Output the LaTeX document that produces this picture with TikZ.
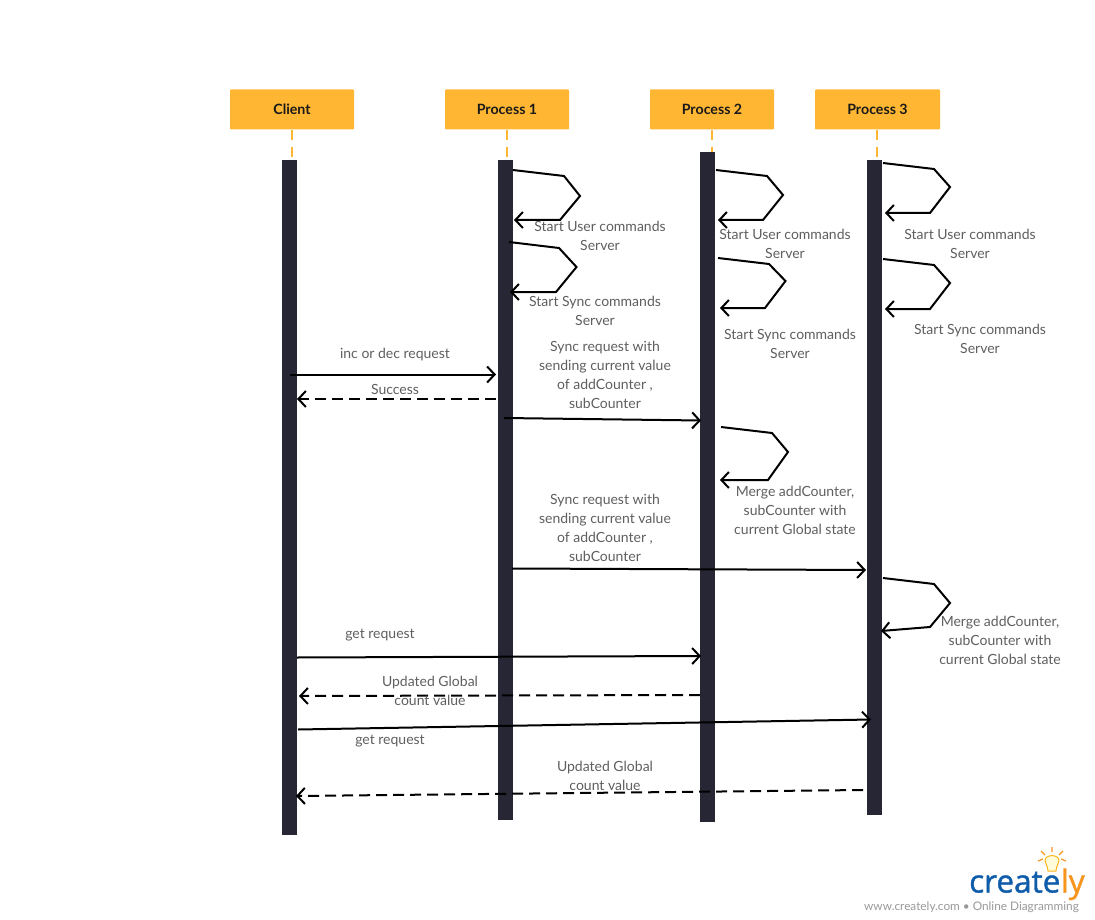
\documentclass[tikz,border=0pt]{standalone}
\usepackage{fontspec}
\setmainfont{Lato}
\newfontfamily\logofont[RawFeature={embolden=1.2}]{Open Sans}
\usetikzlibrary{arrows.meta}
\definecolor{hdr}{HTML}{FFB733}
\definecolor{barc}{HTML}{262635}
\definecolor{lbl}{HTML}{5F5F5F}
\definecolor{logob}{HTML}{0F5DAA}
\definecolor{logoo}{HTML}{F7941E}
\tikzset{
 hdrbox/.style={fill=hdr,rounded corners=0.8pt,minimum width=124pt,minimum height=40pt,inner sep=0pt,font=\fontsize{14.2}{17}\selectfont\bfseries,text=black!90},
 lifebar/.style={fill=barc,minimum width=15pt,inner sep=0pt,anchor=north},
 stub/.style={draw=hdr,line width=2pt,dash pattern=on 10pt off 7pt},
 msg/.style={draw=black,line width=2pt,-{Straight Barb[length=7.5pt,width=16pt,line width=2pt]}},
 ret/.style={msg,dash pattern=on 11pt off 6pt},
 lab/.style={text=lbl,align=center,inner sep=0pt,font=\fontsize{14}{19}\selectfont},
}
\begin{document}
\begin{tikzpicture}[x=1pt,y=-1pt]
\useasboundingbox[fill=white] (0,0) rectangle (1095,920);
% headers
\node[hdrbox] (hc) at (292,109.5) {Client};
\node[hdrbox] (h1) at (507,109.5) {Process 1};
\node[hdrbox] (h2) at (712,109.5) {Process 2};
\node[hdrbox,minimum width=125pt] (h3) at (877.5,109.5) {Process 3};
% bars
\node[lifebar,minimum height=675pt] (bc) at (289.5,160) {};
\node[lifebar,minimum height=660pt] (b1) at (505.5,160) {};
\node[lifebar,minimum height=670pt] (b2) at (707.5,152) {};
\node[lifebar,minimum height=655pt] (b3) at (874.5,160) {};
\coordinate (sc) at (292,158);\coordinate (s1) at (507,158);
\coordinate (s2) at (712,152);\coordinate (s3) at (877,158);
\draw[stub] (hc.south -| sc) -- (sc);
\draw[stub] (h1.south -| s1) -- (s1);
\draw[stub] (h2.south -| s2) -- (s2);
\draw[stub] (h3.south -| s3) -- (s3);
% self loops
\foreach \n/\a/\b/\c/\d/\e in {
 l1/{513,170}/{564,176}/{580,196}/{560,220}/{514,220},
 l2/{509,242}/{559,248}/{576.5,267}/{556,292}/{510,292},
 l3/{716,170}/{767,176}/{783,195}/{763,220}/{718,220},
 l4/{718,258}/{769,264}/{785.5,281}/{765,308}/{720,308},
 l5/{721,427}/{772,433}/{788,452}/{768,480}/{720,480},
 l6/{883,163}/{934,169}/{950,187}/{930,213}/{885,213},
 l7/{883,259}/{934,265}/{950,283}/{930,309}/{885,309},
 l8/{883,578}/{934,584}/{950,603}/{930,627}/{881,631}}{
  \draw[msg,line join=miter] (\a) -- (\b) -- (\c) -- (\d) -- (\e);
}
% message end points
\coordinate (m1a) at (290,374.5);\coordinate (m1b) at (496,374.5);
\coordinate (m2a) at (496,399);\coordinate (m2b) at (297,399);
\coordinate (m3a) at (504,418);\coordinate (m3b) at (701,420.5);
\coordinate (m4a) at (512,568.5);\coordinate (m4b) at (866,570);
\coordinate (m5a) at (297,657.5);\coordinate (m5b) at (701,656);
\coordinate (m6a) at (700,695);\coordinate (m6b) at (299,696);
\coordinate (m7a) at (298,729.5);\coordinate (m7b) at (871,719.5);
\coordinate (m8a) at (863,790);\coordinate (m8b) at (296,796);
\draw[msg] (m1a) -- (m1b);
\draw[ret] (m2a) -- (m2b);
\draw[msg] (m3a) -- (m3b);
\draw[msg] (m4a) -- (m4b);
\draw[msg] (m5a) -- (m5b);
\draw[ret] (m6a) -- (m6b);
\draw[msg] (m7a) -- (m7b);
\draw[ret] (m8a) -- (m8b);
% labels
\node[lab] (t1) at (600,236) {Start User commands\\Server};
\node[lab] (t2) at (595,311) {Start Sync commands\\Server};
\node[lab] (t3) at (785,244) {Start User commands\\Server};
\node[lab] (t4) at (790,344) {Start Sync commands\\Server};
\node[lab] (t5) at (970,244) {Start User commands\\Server};
\node[lab] (t6) at (980,339) {Start Sync commands\\Server};
\node[lab] (t7) at (395,355) {inc or dec request};
\node[lab] (t8) at (395,389) {Success};
\node[lab] (t9) at (605,375) {Sync request with\\sending current value\\of addCounter ,\\subCounter};
\node[lab] (t10) at (795,510.5) {Merge addCounter,\\subCounter with\\current Global state};
\node[lab] (t11) at (605,528) {Sync request with\\sending current value\\of addCounter ,\\subCounter};
\node[lab] (t12) at (1000,640.5) {Merge addCounter,\\subCounter with\\current Global state};
\node[lab] (t13) at (380,635) {get request};
\node[lab] (t14) at (430,691) {Updated Global\\count value};
\node[lab] (t15) at (390,741) {get request};
\node[lab] (t16) at (605,776) {Updated Global\\count value};
% logo
\node[inner sep=0pt,anchor=base west,text=logob,font=\logofont\fontsize{31.5}{32}\selectfont] (lg1) at (969,892.5) {create};
\node[inner sep=0pt,anchor=base west,text=logoo,font=\logofont\fontsize{31.5}{32}\selectfont] (lg2) at (lg1.base east) {ly};
\node[inner sep=0pt,text=black!40,font=\fontsize{11.8}{14}\selectfont] (tag) at (971.5,907) {www.creately.com • Online Diagramming};
\draw[logoo!70!yellow,line width=1pt,fill=yellow!15] (1048,871) .. controls (1048,866) and (1045,864) .. (1045,860.5) .. controls (1045,854) and (1059,854) .. (1059,860.5) .. controls (1059,864) and (1056,866) .. (1056,871) -- cycle;
\draw[logoo,line width=1.2pt] (1052,847) -- (1052,852) (1041,851) -- (1045,855) (1063,851) -- (1059,855) (1038,861) -- (1043,859) (1066,861) -- (1061,859);
\end{tikzpicture}
\end{document}
